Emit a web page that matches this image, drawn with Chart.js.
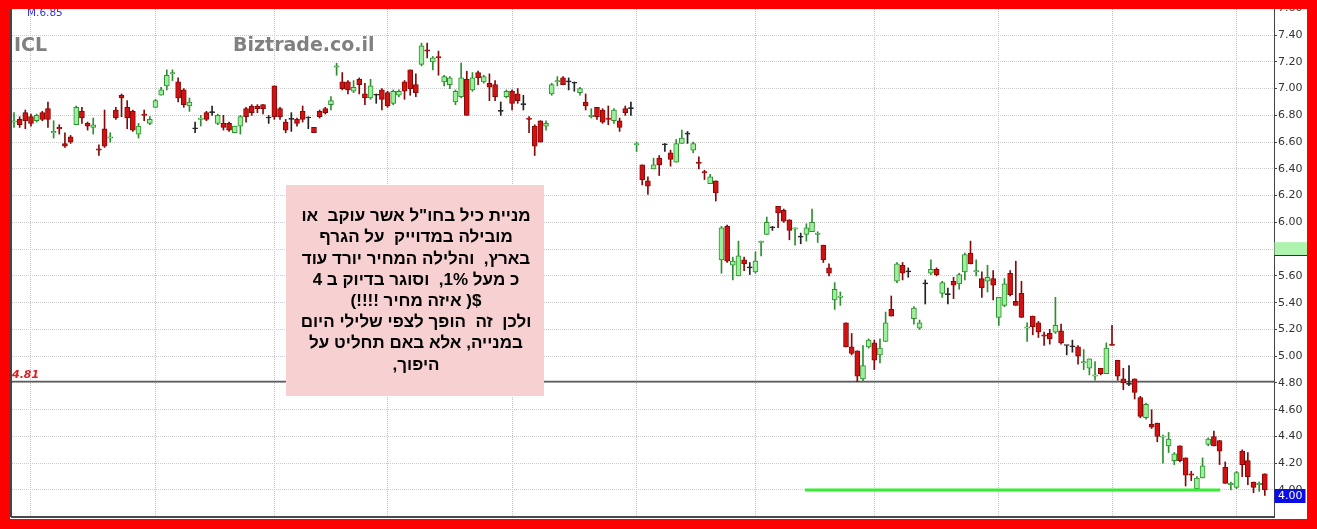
<!DOCTYPE html>
<html>
<head>
<meta charset="utf-8">
<title>ICL</title>
<script src="https://cdn.jsdelivr.net/npm/chart.js@4.4.1/dist/chart.umd.min.js"></script>
<style>
  html, body { margin: 0; padding: 0; background: #ff0000; }
  canvas { display: block; }
</style>
</head>
<body>
<canvas id="c" width="1317" height="529"></canvas>
<script>
// Daily candles, oldest first (index = trading day)
const candleOpen = [
  6.75,6.77,6.82,6.79,6.76,6.82,6.85,6.67,6.71,6.59,6.64,6.73,6.83,6.74,6.71,6.55,6.70,6.63,6.84,6.95,
  6.86,6.83,6.66,6.81,6.74,6.86,6.95,7.02,7.11,7.05,6.99,6.87,6.70,6.77,6.82,6.82,6.74,6.74,6.74,6.67,
  6.72,6.85,6.87,6.87,6.88,6.78,7.02,6.85,6.75,6.77,6.77,6.83,6.78,6.71,6.83,6.85,6.88,7.16,7.05,7.05,
  6.98,7.07,6.96,6.93,6.95,6.99,6.97,6.89,6.95,7.05,7.14,7.03,7.18,7.29,7.20,7.24,7.05,7.03,6.90,6.94,
  7.07,6.99,7.12,7.05,7.04,7.03,6.83,6.94,6.98,6.96,6.88,6.78,6.72,6.76,6.72,6.96,7.05,7.08,7.05,7.04,
  6.97,6.90,6.79,6.86,6.84,6.78,6.76,6.76,6.85,6.85,6.58,6.43,6.31,6.40,6.48,6.58,6.52,6.45,6.59,6.66,
  6.54,6.45,6.38,6.29,6.31,5.72,5.97,5.68,5.60,5.72,5.66,5.63,5.85,5.91,5.96,6.12,6.09,6.02,5.95,5.89,
  5.91,5.93,5.91,5.83,5.66,5.42,5.44,5.25,5.07,5.04,4.83,5.07,5.10,5.01,5.11,5.35,5.56,5.68,5.63,5.28,
  5.21,5.54,5.62,5.65,5.47,5.46,5.56,5.54,5.63,5.77,5.63,5.58,5.56,5.58,5.29,5.38,5.62,5.41,5.47,5.21,
  5.30,5.25,5.16,5.17,5.18,5.19,5.08,5.07,5.07,4.95,4.91,4.85,4.91,4.87,5.09,4.97,4.83,4.79,4.83,4.69,
  4.54,4.49,4.50,4.395,4.33,4.22,4.33,4.24,4.12,4.01,4.09,4.34,4.40,4.37,4.17,4.04,4.02,4.29,4.22,4.06,
  4.04,4.12
];
const candleHigh = [
  6.82,6.79,6.84,6.81,6.81,6.83,6.90,6.76,6.73,6.67,6.65,6.87,6.86,6.75,6.78,6.58,6.84,6.67,6.86,6.96,
  6.91,6.84,6.74,6.84,6.79,6.92,7.01,7.14,7.14,7.08,7.00,6.93,6.75,6.80,6.83,6.87,6.81,6.80,6.75,6.72,
  6.80,6.86,6.88,6.88,6.88,6.80,7.02,6.86,6.77,6.82,6.78,6.87,6.79,6.71,6.84,6.86,6.94,7.19,7.12,7.06,
  7.06,7.08,7.04,7.07,6.96,7.00,6.98,6.99,6.99,7.06,7.14,7.11,7.34,7.34,7.24,7.28,7.10,7.09,6.99,7.19,
  7.13,7.12,7.13,7.10,7.11,7.06,6.90,6.99,6.99,7.00,6.95,6.79,6.73,6.76,6.76,7.04,7.09,7.09,7.08,7.05,
  7.01,6.96,6.85,6.86,6.85,6.87,6.85,6.78,6.87,6.90,6.60,6.43,6.34,6.48,6.50,6.59,6.54,6.62,6.69,6.68,
  6.60,6.49,6.39,6.36,6.31,5.97,5.98,5.74,5.86,5.74,5.70,5.78,5.86,6.04,5.97,6.12,6.10,6.02,5.96,5.92,
  5.99,6.10,5.93,5.83,5.69,5.55,5.48,5.25,5.17,5.04,5.08,5.13,5.12,5.13,5.33,5.45,5.70,5.70,5.66,5.37,
  5.27,5.57,5.72,5.66,5.56,5.51,5.59,5.62,5.77,5.86,5.72,5.63,5.68,5.64,5.44,5.58,5.64,5.71,5.56,5.25,
  5.30,5.26,5.18,5.20,5.44,5.24,5.08,5.12,5.08,5.05,4.98,4.96,4.91,5.10,5.23,4.97,4.91,4.93,4.83,4.70,
  4.65,4.60,4.50,4.41,4.43,4.28,4.33,4.24,4.14,4.10,4.24,4.39,4.44,4.37,4.21,4.06,4.14,4.30,4.28,4.06,
  4.06,4.12
];
const candleLow = [
  6.71,6.71,6.70,6.72,6.75,6.76,6.71,6.63,6.66,6.56,6.59,6.73,6.74,6.69,6.66,6.50,6.56,6.60,6.77,6.79,
  6.70,6.68,6.63,6.76,6.73,6.86,6.95,6.99,7.06,6.90,6.86,6.83,6.67,6.72,6.76,6.80,6.73,6.69,6.68,6.67,
  6.66,6.75,6.80,6.82,6.81,6.74,6.77,6.77,6.67,6.68,6.72,6.75,6.70,6.67,6.78,6.81,6.84,7.10,6.99,6.96,
  6.97,6.96,6.88,6.92,6.89,6.84,6.86,6.88,6.94,6.92,6.95,6.94,7.17,7.23,7.14,7.10,7.02,7.00,6.88,6.93,
  6.80,6.98,7.03,7.04,6.91,6.91,6.80,6.93,6.84,6.89,6.84,6.67,6.50,6.60,6.69,6.95,7.02,7.03,6.99,6.98,
  6.95,6.84,6.78,6.77,6.74,6.73,6.74,6.68,6.80,6.80,6.53,6.28,6.21,6.40,6.35,6.53,6.42,6.45,6.59,6.59,
  6.52,6.40,6.32,6.29,6.16,5.62,5.70,5.57,5.60,5.64,5.61,5.62,5.75,5.91,5.94,5.96,6.00,5.87,5.83,5.84,
  5.86,5.93,5.85,5.70,5.60,5.35,5.38,5.07,5.01,4.81,4.81,5.06,4.90,4.95,5.11,5.30,5.55,5.57,5.59,5.24,
  5.20,5.39,5.61,5.60,5.44,5.39,5.43,5.50,5.57,5.69,5.60,5.44,5.48,5.42,5.23,5.37,5.45,5.38,5.29,5.11,
  5.16,5.14,5.08,5.09,5.17,5.09,5.01,5.03,4.94,4.90,4.86,4.82,4.86,4.87,5.08,4.82,4.75,4.78,4.68,4.54,
  4.53,4.46,4.36,4.20,4.28,4.19,4.21,4.03,4.07,4.01,4.09,4.33,4.33,4.19,4.05,4.00,4.01,4.10,4.04,3.98,
  3.99,3.96
];
const candleClose = [
  6.76,6.73,6.76,6.74,6.80,6.77,6.77,6.68,6.70,6.57,6.60,6.86,6.78,6.72,6.73,6.54,6.57,6.64,6.78,6.93,
  6.78,6.69,6.72,6.80,6.77,6.91,6.99,7.10,7.12,6.93,6.88,6.90,6.70,6.78,6.77,6.82,6.80,6.71,6.69,6.72,
  6.79,6.79,6.82,6.85,6.85,6.78,6.79,6.79,6.69,6.77,6.74,6.77,6.78,6.67,6.79,6.82,6.91,7.17,7.00,6.99,
  7.01,7.03,6.93,7.02,6.95,6.92,6.87,6.98,6.98,6.98,7.00,6.97,7.32,7.28,7.23,7.23,7.09,7.08,6.98,7.08,
  6.80,7.08,7.08,7.09,7.01,6.94,6.83,6.98,6.89,6.91,6.88,6.77,6.57,6.60,6.74,7.03,7.06,7.03,7.05,7.04,
  7.00,6.87,6.80,6.79,6.75,6.77,6.84,6.71,6.82,6.85,6.59,6.32,6.27,6.43,6.43,6.58,6.47,6.59,6.63,6.66,
  6.59,6.44,6.37,6.34,6.22,5.96,5.71,5.71,5.75,5.69,5.66,5.71,5.86,6.00,5.96,6.07,6.01,5.94,5.96,5.89,
  5.96,6.00,5.92,5.72,5.62,5.50,5.45,5.07,5.02,4.85,4.93,5.12,4.97,5.06,5.25,5.30,5.69,5.62,5.63,5.36,
  5.25,5.54,5.65,5.61,5.55,5.46,5.53,5.61,5.76,5.69,5.64,5.51,5.59,5.53,5.44,5.54,5.46,5.38,5.29,5.22,
  5.22,5.18,5.15,5.13,5.23,5.10,5.08,5.07,5.00,4.96,4.98,4.86,4.87,5.06,5.08,4.85,4.80,4.79,4.73,4.55,
  4.64,4.47,4.40,4.40,4.38,4.27,4.22,4.11,4.11,4.09,4.18,4.38,4.33,4.29,4.05,4.05,4.13,4.19,4.10,4.02,
  4.05,4.00
];

// Price axis labels and the first trading day of each month (vertical guides)
const yTickLabels = ['4.00','4.20','4.40','4.60','4.80','5.00','5.20','5.40','5.60','5.80',
                     '6.00','6.20','6.40','6.60','6.80','7.00','7.20','7.40','7.60'];
const monthStarts = [3, 25, 46, 66, 88, 110, 131, 152, 174, 194, 216];

// Reference levels
const refLevel = 4.81;          // horizontal level with its label at the left
const supportLevel = 4.00;      // green support segment
const supportFrom = 139.75;
const supportTo = 213.1;
const markerLevel = 5.80;       // highlighted level on the price axis
const titleLeft = 'ICL';
const titleSite = 'Biztrade.co.il';
const avgLabel = 'M.6.85';

const noteLines = [
  'מניית כיל בחו"ל אשר עוקב  או',
  'מובילה במדוייק  על הגרף',
  'בארץ,  והלילה המחיר יורד עוד',
  'כ מעל 1%,  וסוגר בדיוק ב 4',
  '$( איזה מחיר !!!!)',
  'ולכן  זה  הופך לצפי שלילי היום',
  'במנייה, אלא באם תחליט על',
  'היפוך,'
];

const UP_FILL = '#9cf09c', UP_EDGE = '#2f8f2f';
const DN_FILL = '#d01212', DN_EDGE = '#860808';
const FLAT = '#222222';

function trend(i) {
  const d = candleClose[i] - candleOpen[i];
  return d > 0 ? 1 : (d < 0 ? -1 : 0);
}

const bodies = candleOpen.map((o, i) => ({ x: i, y: [o, candleClose[i]] }));
const wicks = candleLow.map((l, i) => ({ x: i, y: [l, candleHigh[i]] }));

const FONT = '"DejaVu Sans", Verdana, sans-serif';

const decor = {
  id: 'decor',
  beforeDraw(chart) {
    const c = chart.ctx;
    c.save();
    c.fillStyle = '#ffffff';
    c.fillRect(0, 0, chart.width, chart.height);
    c.restore();
  },
  beforeDatasetsDraw(chart) {
    const { ctx: c, chartArea: a, scales: { y } } = chart;
    const py = y.getPixelForValue(refLevel);
    c.save();
    c.strokeStyle = '#5c5c5c';
    c.lineWidth = 1.6;
    c.beginPath();
    c.moveTo(a.left, py);
    c.lineTo(a.right, py);
    c.stroke();
    c.restore();
  },
  afterDatasetsDraw(chart) {
    const { ctx: c, scales: { x, y } } = chart;
    const py = y.getPixelForValue(supportLevel);
    c.save();
    c.strokeStyle = '#33ee33';
    c.lineWidth = 3;
    c.beginPath();
    c.moveTo(x.getPixelForValue(supportFrom), py);
    c.lineTo(x.getPixelForValue(supportTo), py);
    c.stroke();
    c.restore();
  },
  afterDraw(chart) {
    const { ctx: c, chartArea: a, scales: { y } } = chart;
    c.save();

    // titles
    c.fillStyle = '#808080';
    c.font = 'bold 19px ' + FONT;
    c.textBaseline = 'alphabetic';
    c.textAlign = 'left';
    c.fillText(titleLeft, 14, 51);
    c.fillText(titleSite, 233, 51);

    c.fillStyle = '#3333dd';
    c.font = '10.5px ' + FONT;
    c.fillText(avgLabel, 27, 16);

    // level label
    c.fillStyle = '#dd2020';
    c.font = 'bold italic 11px ' + FONT;
    c.fillText(refLevel.toFixed(2), 12, y.getPixelForValue(refLevel) - 4);

    // highlighted level on the axis
    const my = y.getPixelForValue(markerLevel);
    c.fillStyle = '#aef3ae';
    c.fillRect(a.right + 0.5, my - 7, 33, 13);
    c.strokeStyle = '#333333';
    c.lineWidth = 1;
    c.beginPath();
    c.moveTo(a.right, Math.round(my + 6) + 0.5);
    c.lineTo(a.right + 34, Math.round(my + 6) + 0.5);
    c.stroke();

    // last close tag
    const last = candleClose[candleClose.length - 1];
    const ly = y.getPixelForValue(last);
    c.fillStyle = '#0c0ce8';
    c.fillRect(a.right + 0.5, ly - 1, 31, 14);
    c.fillStyle = '#ffffff';
    c.font = '11px ' + FONT;
    c.textBaseline = 'middle';
    c.fillText(last.toFixed(2), a.right + 4, ly + 6);

    // note box
    c.fillStyle = '#f7d1d1';
    c.fillRect(286, 185, 258, 211);
    c.fillStyle = '#000000';
    c.font = 'bold 17px "Liberation Sans", Arial, sans-serif';
    c.textAlign = 'center';
    c.textBaseline = 'middle';
    c.direction = 'rtl';
    noteLines.forEach((line, i) => {
      c.fillText(line, 416, 216.5 + i * 21.2);
    });
    c.direction = 'ltr';

    // frame
    c.strokeStyle = '#444444';
    c.lineWidth = 2;
    c.beginPath();
    c.moveTo(11, 9);
    c.lineTo(11, a.bottom);
    c.stroke();

    c.fillStyle = '#ff0000';
    c.fillRect(0, 0, chart.width, 9);
    c.fillRect(0, 0, 10, chart.height);
    c.fillRect(1307, 0, chart.width - 1307, chart.height);
    c.fillRect(0, 519, chart.width, chart.height - 519);
    c.restore();
  }
};

new Chart(document.getElementById('c'), {
  type: 'bar',
  data: {
    datasets: [
      {
        label: 'body',
        data: bodies,
        order: 0,
        grouped: false,
        barThickness: 5,
        maxBarThickness: 5,
        minBarLength: 1,
        borderWidth: 1,
        borderSkipped: false,
        backgroundColor: ctx => { const t = trend(ctx.dataIndex); return t > 0 ? UP_FILL : (t < 0 ? DN_FILL : FLAT); },
        borderColor: ctx => { const t = trend(ctx.dataIndex); return t > 0 ? UP_EDGE : (t < 0 ? DN_EDGE : FLAT); }
      },
      {
        label: 'range',
        data: wicks,
        order: 1,
        grouped: false,
        barThickness: 1,
        maxBarThickness: 1,
        borderWidth: 0,
        backgroundColor: ctx => { const t = trend(ctx.dataIndex); return t > 0 ? UP_EDGE : (t < 0 ? DN_EDGE : FLAT); }
      }
    ]
  },
  options: {
    responsive: false,
    animation: false,
    devicePixelRatio: 1,
    layout: { padding: { left: 12, top: 9, right: 0, bottom: 12 } },
    plugins: { legend: { display: false }, tooltip: { enabled: false } },
    scales: {
      x: {
        type: 'linear',
        offset: false,
        min: -0.353,
        max: 222.62,
        afterBuildTicks: s => { s.ticks = monthStarts.map(v => ({ value: v })); },
        afterFit: s => { s.height = 0; },
        ticks: { display: false },
        grid: { offset: false, color: '#c2c2c2', lineWidth: 1, drawTicks: false },
        border: { display: true, color: '#4a4a4a', width: 2, dash: [1, 1] }
      },
      y: {
        type: 'linear',
        position: 'right',
        min: 3.7982,
        max: 7.5949,
        afterBuildTicks: s => { s.ticks = yTickLabels.map(v => ({ value: parseFloat(v) })); },
        afterFit: s => { s.width = 43; },
        ticks: {
          color: '#333333',
          padding: 1,
          font: { family: '"DejaVu Sans", Verdana, sans-serif', size: 11 },
          callback: v => v.toFixed(2)
        },
        grid: { color: '#cdcdcd', lineWidth: 1, tickColor: '#444444', tickLength: 3 },
        border: { display: true, color: '#444444', width: 1, dash: [1, 1] }
      }
    }
  },
  plugins: [decor]
});
</script>
</body>
</html>
